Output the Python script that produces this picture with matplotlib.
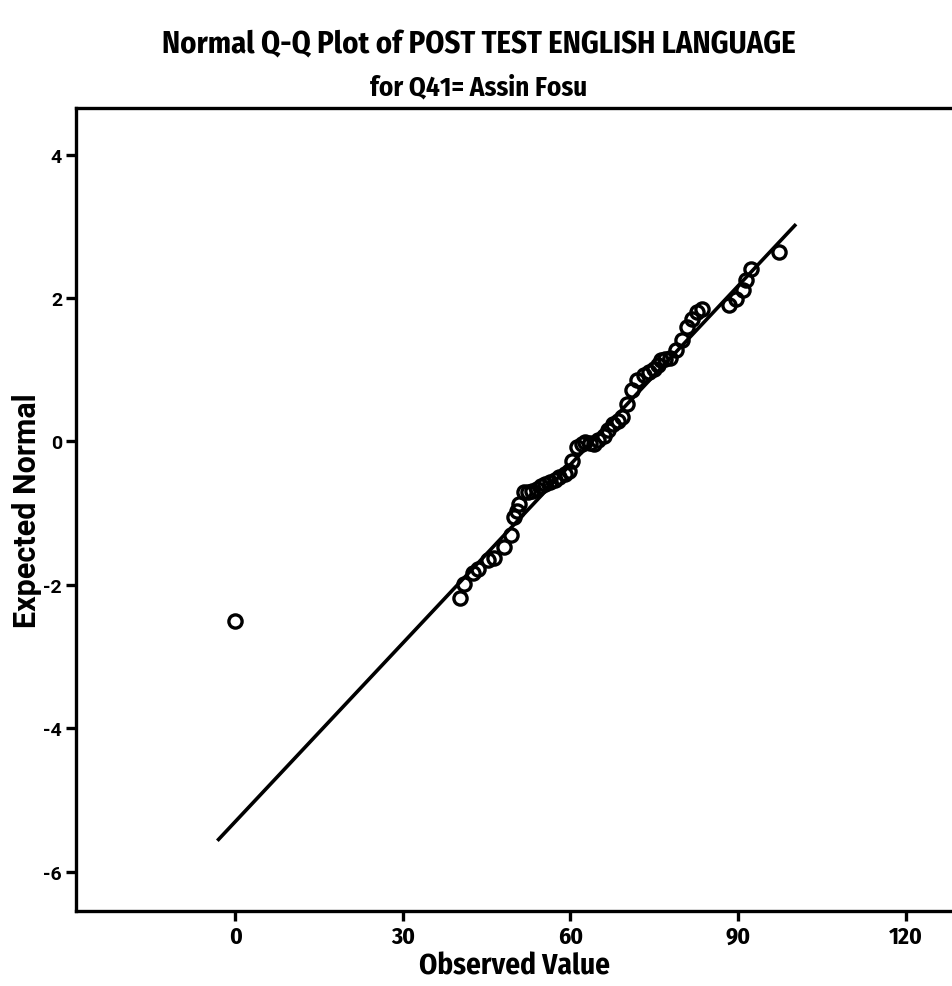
import matplotlib
matplotlib.use("Agg")
import matplotlib.pyplot as plt
import numpy as np

observed = [0, 40.2, 41.0, 42.5, 43.4, 45.2, 46.4, 48.2, 49.3, 49.9, 50.4, 50.8,
            51.7, 52.5, 53.2, 54.0, 54.7, 55.5, 56.4, 57.2, 58.0, 59.0, 59.7,
            60.3, 61.2, 62.0, 62.7, 63.5, 64.2, 65.0, 66.0, 66.8, 67.7, 68.5,
            69.2, 70.1, 71.0, 71.9, 73.1, 74.0, 74.9, 75.6, 76.3, 77.0, 77.8,
            79.0, 79.9, 80.8, 81.7, 82.6, 83.5, 88.4, 89.7, 90.9, 91.5, 92.3, 97.3]
expected = [-2.51, -2.18, -1.99, -1.83, -1.78, -1.66, -1.62, -1.48, -1.30, -1.06,
            -0.97, -0.88, -0.71, -0.70, -0.69, -0.66, -0.62, -0.60, -0.57, -0.54,
            -0.50, -0.45, -0.41, -0.27, -0.08, -0.03, -0.01, -0.02, -0.04, 0.02,
            0.08, 0.16, 0.24, 0.29, 0.34, 0.52, 0.71, 0.85, 0.92, 0.97, 1.01, 1.07,
            1.13, 1.15, 1.17, 1.27, 1.41, 1.59, 1.71, 1.80, 1.85, 1.90, 1.99, 2.11,
            2.25, 2.41, 2.64]
line_x = [-3.2, 100.4]
line_y = [-5.57, 3.03]

x_ticks = [0, 30, 60, 90, 120]
y_ticks = [4, 2, 0, -2, -4, -6]

title = "Normal Q-Q Plot of POST TEST ENGLISH LANGUAGE"
subtitle = "for Q41= Assin Fosu"
xlabel = "Observed Value"
ylabel = "Expected Normal"

narrow = ["Fira Sans Condensed", "DejaVu Sans"]
wide = ["Roboto", "DejaVu Sans"]

fig = plt.figure(figsize=(9.53, 9.87), dpi=100)
ax = fig.add_axes([76 / 953, 1 - 912 / 987, 1 - 76 / 953, (912 - 109) / 987])

ax.plot(line_x, line_y, color="black", lw=2.6, solid_capstyle="butt", zorder=2)
ax.plot(observed, expected, linestyle="none", marker="o", markersize=9.5,
        markerfacecolor="none", markeredgecolor="black", markeredgewidth=2.4, zorder=3)

ax.set_xlim(-28.5, 128.5)
ax.set_ylim(-6.55, 4.65)
ax.set_xticks(x_ticks)
ax.set_yticks(y_ticks)
ax.set_xticklabels([str(t) for t in x_ticks], fontfamily=narrow, fontweight="bold", fontsize=17)
ax.set_yticklabels([str(t) for t in y_ticks], fontfamily=wide, fontweight="bold", fontsize=14)
ax.tick_params(axis="both", direction="out", length=7, width=2.4, color="black", pad=3)
ax.spines["right"].set_visible(False)
for s in ("left", "top", "bottom"):
    ax.spines[s].set_linewidth(2.4)

ax.set_xlabel(xlabel, fontfamily=narrow, fontweight="bold", fontsize=21, labelpad=3)
ax.set_ylabel(ylabel, fontfamily=wide, fontweight="bold", fontsize=22, labelpad=1)

fig.text(0.502, 1 - 45 / 987, title, ha="center", va="center",
         fontfamily=narrow, fontweight="bold", fontsize=22)
fig.text(0.502, 1 - 88 / 987, subtitle, ha="center", va="center",
         fontfamily=narrow, fontweight="bold", fontsize=19.5)

fig.savefig("out.png", dpi=100, facecolor="white")
